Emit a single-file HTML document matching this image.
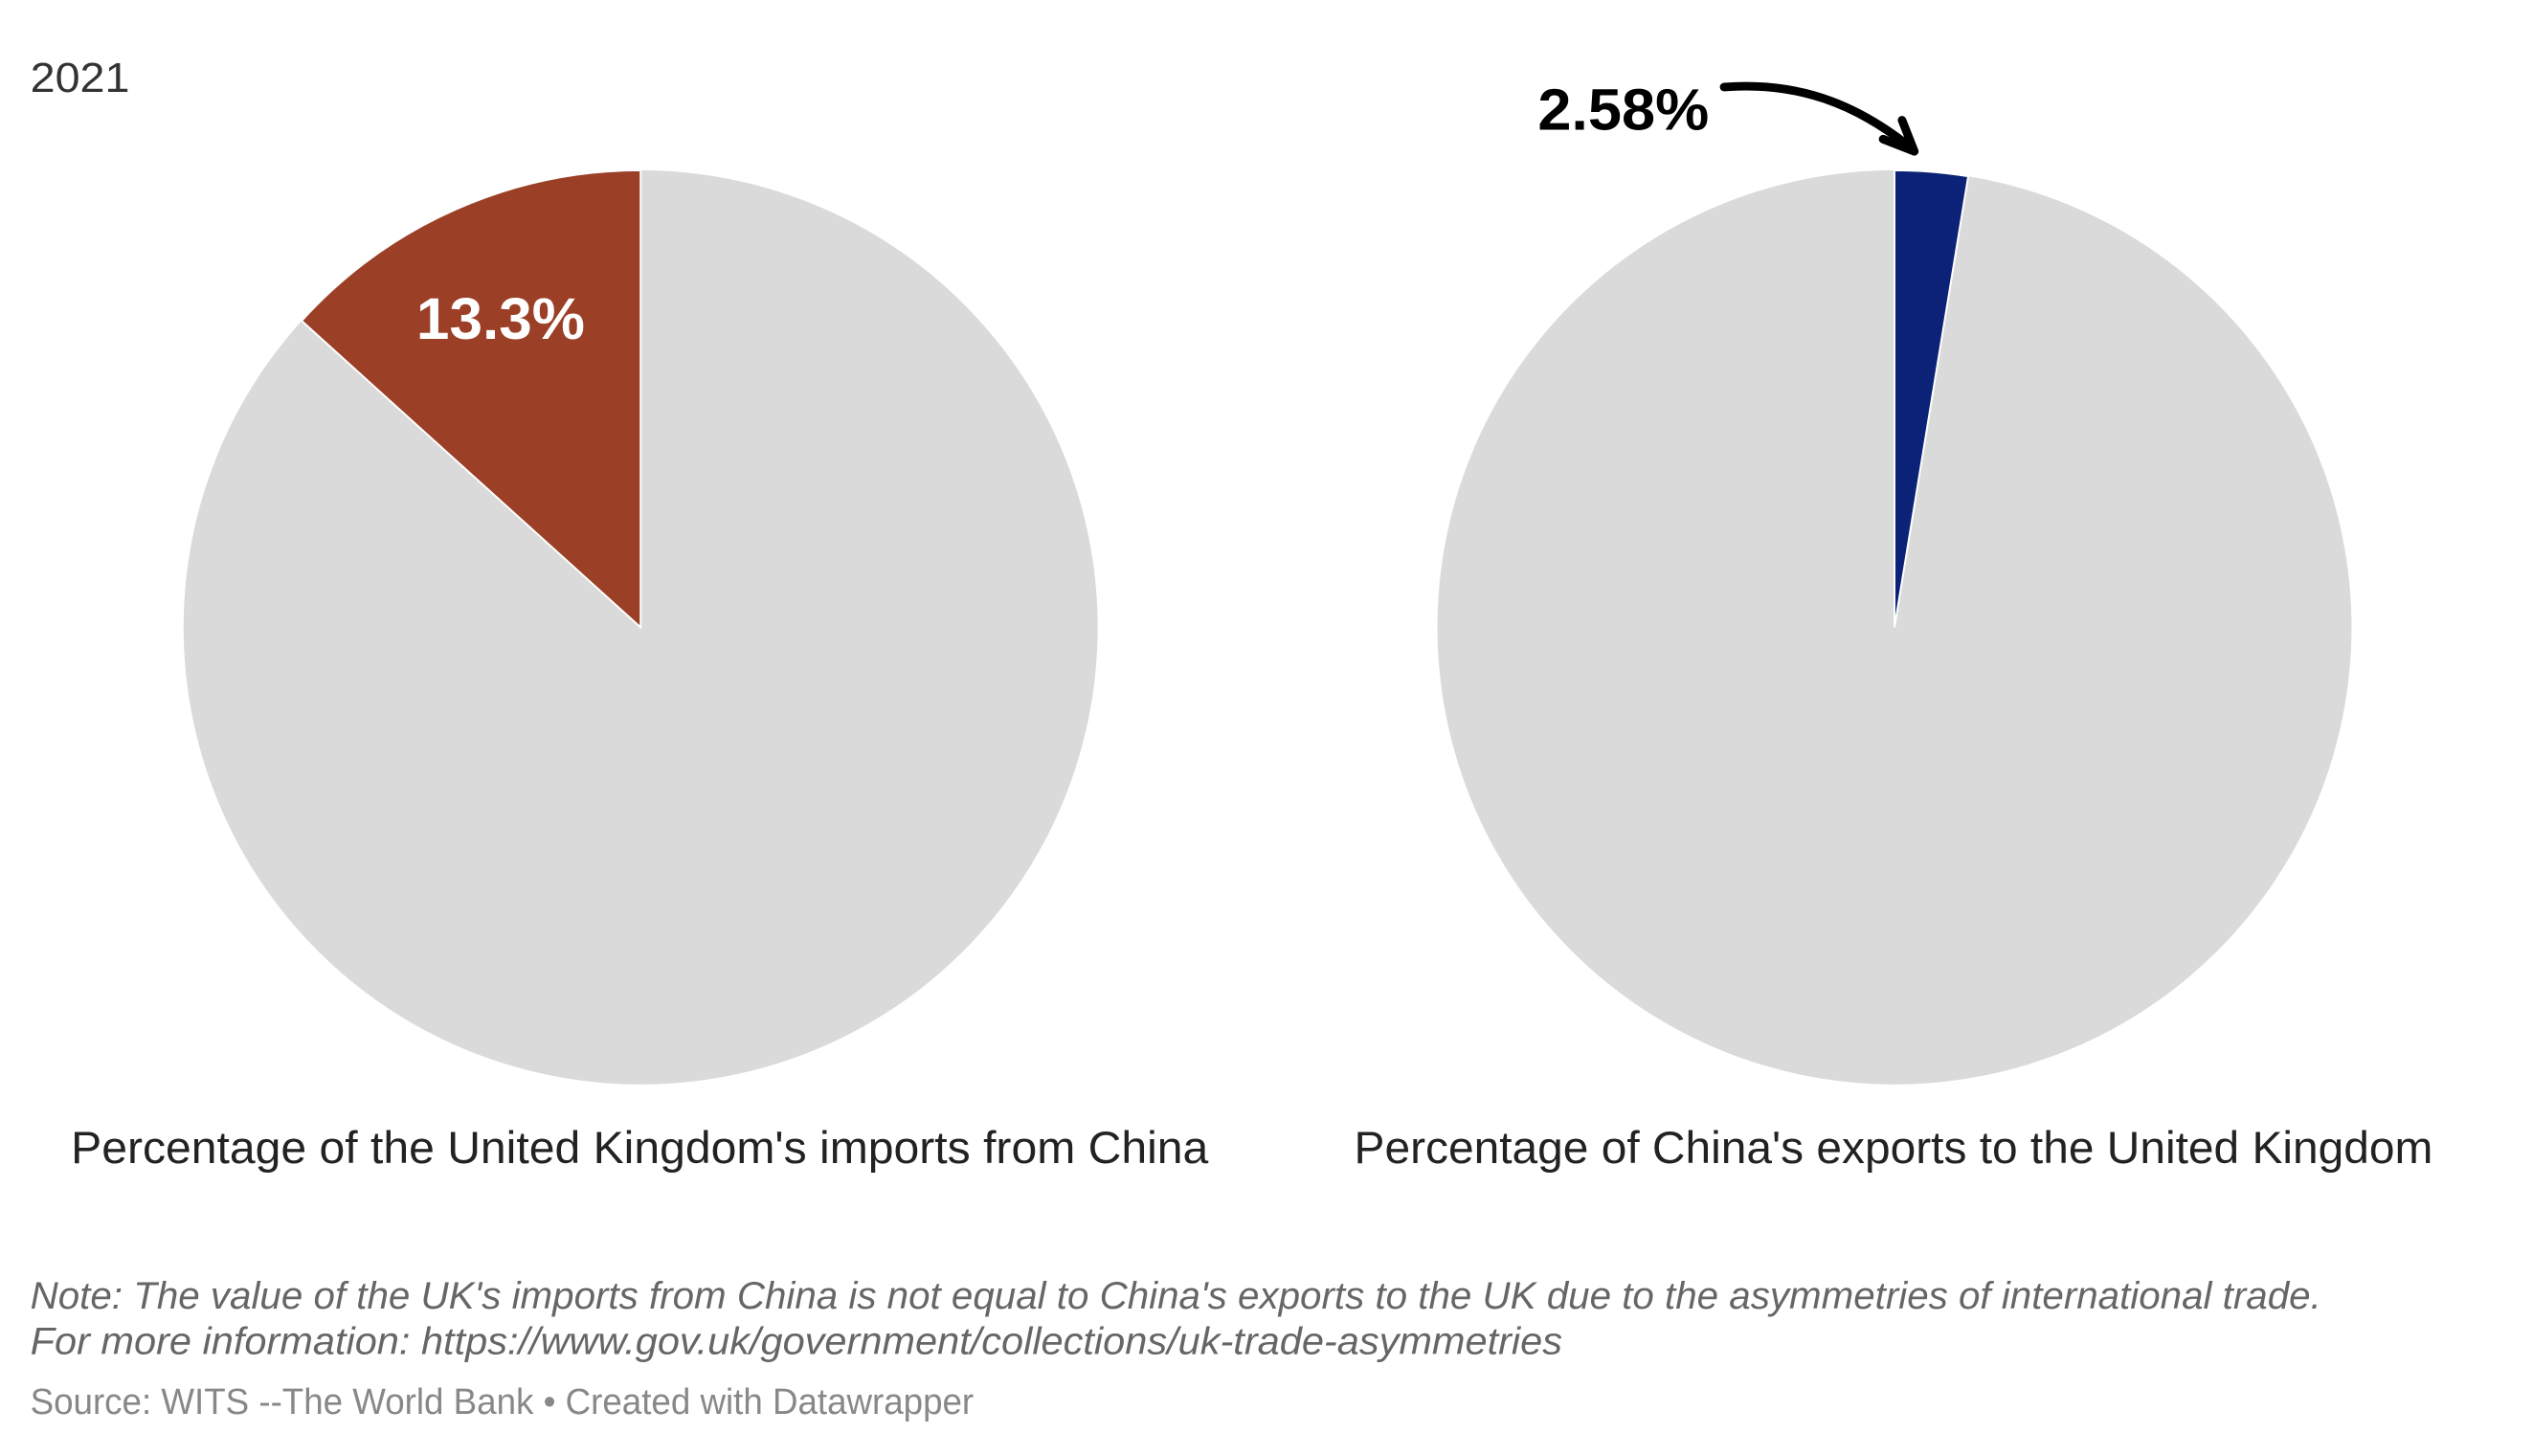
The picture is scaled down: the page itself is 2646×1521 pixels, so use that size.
<!DOCTYPE html>
<html><head><meta charset="utf-8"><style>
html,body{margin:0;padding:0;background:#fff;}
svg{display:block;font-family:"Liberation Sans",sans-serif;}
</style></head><body>
<svg id="chart" width="2646" height="1521" viewBox="0 0 2646 1521">
<g transform="scale(0.9885)">
<text x="32" y="97" font-size="44" fill="#333" textLength="105" lengthAdjust="spacingAndGlyphs">2021</text>
<g id="pies"></g>
<text x="75" y="1229" font-size="48" fill="#222" textLength="1202" lengthAdjust="spacingAndGlyphs">Percentage of the United Kingdom's imports from China</text>
<text x="1431" y="1229" font-size="48" fill="#222" textLength="1140" lengthAdjust="spacingAndGlyphs">Percentage of China's exports to the United Kingdom</text>
<text x="440" y="358" font-size="62" font-weight="bold" fill="#fff" textLength="178" lengthAdjust="spacingAndGlyphs">13.3%</text>
<text x="1625" y="137" font-size="62" font-weight="bold" fill="#000" textLength="181" lengthAdjust="spacingAndGlyphs">2.58%</text>
<g fill="none" stroke="#000" stroke-width="9" stroke-linecap="round" stroke-linejoin="round">
<path d="M1822,92 C1900,86 1960,110 2014,152"/>
<path d="M1990,147 L2023,160 L2010,127"/>
</g>
<text x="32" y="1383" font-size="40" font-style="italic" fill="#666" textLength="2421" lengthAdjust="spacingAndGlyphs">Note: The value of the UK's imports from China is not equal to China's exports to the UK due to the asymmetries of international trade.</text>
<text x="32" y="1431" font-size="40" font-style="italic" fill="#666" textLength="1619" lengthAdjust="spacingAndGlyphs">For more information: https://www.gov.uk/government/collections/uk-trade-asymmetries</text>
<text x="32" y="1494" font-size="38" fill="#888" textLength="997" lengthAdjust="spacingAndGlyphs">Source: WITS --The World Bank • Created with Datawrapper</text>
</g>
</svg>
<script>
const pieNames = ['uk-imports-from-china','china-exports-to-uk'];
const pieValues = [13.3, 2.58];
const pieDirections = [-1, 1];
const pieColors = ['#9b3f26','#0b2277'];
const centersX = [677, 2002];
const cy = 663, r = 483;
const g = document.getElementById('pies');
const NS = 'http://www.w3.org/2000/svg';
function pt(cx, frac, dir){ const a = dir*frac*2*Math.PI; return [cx + r*Math.sin(a), cy - r*Math.cos(a)]; }
pieValues.forEach((v,i)=>{
  const cx = centersX[i];
  const bg = document.createElementNS(NS,'circle');
  bg.setAttribute('cx',cx); bg.setAttribute('cy',cy); bg.setAttribute('r',r); bg.setAttribute('fill','#dadada');
  
  
  g.appendChild(bg);
  const f = v/100, d = pieDirections[i];
  const p = pt(cx, f, d);
  const large = f > 0.5 ? 1 : 0;
  const sweep = d > 0 ? 1 : 0;
  const s = document.createElementNS(NS,'path');
  s.setAttribute('d', `M${cx},${cy} L${cx},${cy-r} A${r},${r} 0 ${large} ${sweep} ${p[0]},${p[1]} Z`);
  s.setAttribute('fill', pieColors[i]);
  s.setAttribute('stroke', '#fff'); s.setAttribute('stroke-width', '2');
  
  
  g.appendChild(s);
});
</script>
</body></html>
